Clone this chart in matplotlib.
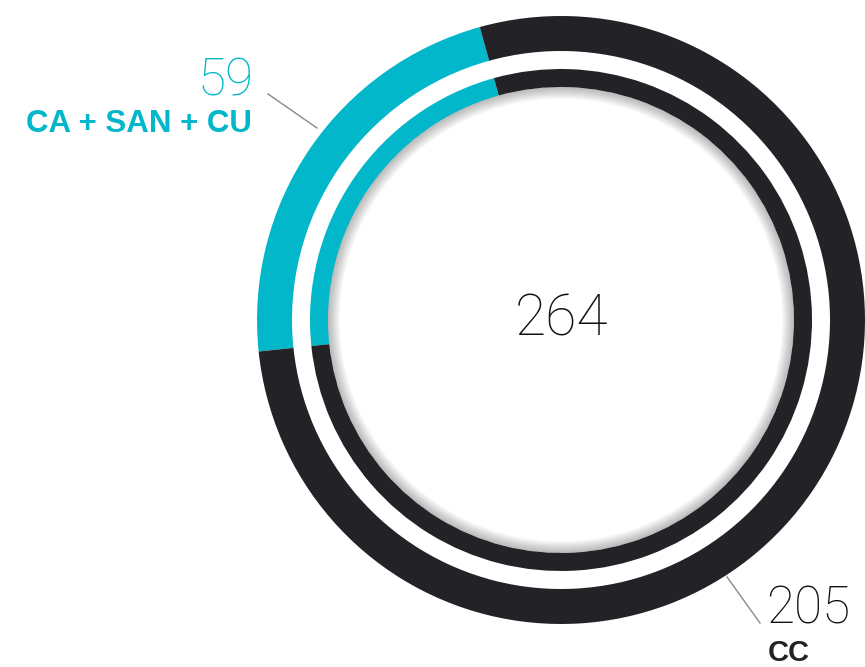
import matplotlib
matplotlib.use('Agg')
import matplotlib.pyplot as plt
from matplotlib.patches import Wedge

# ── data ─────────────────────────────────────────────
groups = ['CA + SAN + CU', 'CC']
counts = [59, 205]
total = sum(counts)

colors = ['#02b7ca', '#232227']

# geometry (pixel units, y measured from bottom)
cx, cy = 561, 347
r_outer, w_outer = 304, 35
r_inner, w_inner = 251, 18
start = 105.5

fig = plt.figure(figsize=(8.65, 6.67), dpi=100)
ax = fig.add_axes([0, 0, 1, 1])

ax.pie(counts, colors=colors, startangle=start, center=(cx, cy),
       radius=r_outer, wedgeprops=dict(width=w_outer, edgecolor='none'))
ax.pie(counts, colors=colors, startangle=start, center=(cx, cy),
       radius=r_inner, wedgeprops=dict(width=w_inner, edgecolor='none'))

# soft inner shadow of the inner ring
hole = r_inner - w_inner
for k in range(1, 13):
    ax.add_patch(Wedge((cx, cy), hole, 0, 360, width=k,
                       facecolor='black', edgecolor='none', alpha=0.025))

ax.set_xlim(0, 865)
ax.set_ylim(0, 667)
ax.set_aspect('equal')
ax.axis('off')

light = dict(family=['Roboto', 'DejaVu Sans'], fontweight='light')
bold = dict(family=['Liberation Sans', 'DejaVu Sans'], fontweight='bold')

# centre total
ax.text(cx + 1, 331, str(total), fontsize=41, color='#111111',
        ha='center', va='baseline', **light)

# label for first group
ax.text(254, 572, str(counts[0]), fontsize=37, color=colors[0],
        ha='right', va='baseline', **light)
ax.text(252, 535, groups[0], fontsize=22.5, color=colors[0],
        ha='right', va='baseline', **bold)
ax.plot([268, 317], [573, 539], color='#8a8a8a', lw=1.0)

# label for second group
ax.text(766, 43, str(counts[1]), fontsize=37, color='#111111',
        ha='left', va='baseline', **light)
ax.text(768, 6, groups[1], fontsize=21, color='#232227',
        ha='left', va='baseline', **bold)
ax.plot([727, 760], [90, 44], color='#8a8a8a', lw=1.0)

fig.savefig('out.png', dpi=100)
